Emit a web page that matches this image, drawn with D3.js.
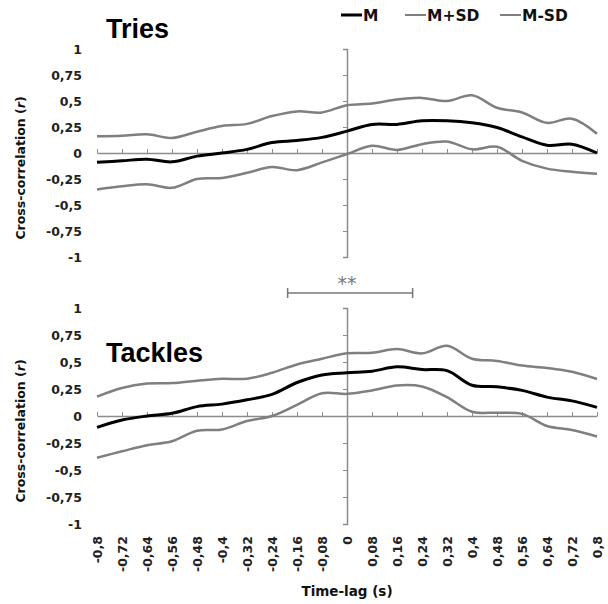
<!DOCTYPE html>
<html>
<head>
<meta charset="utf-8">
<script src="https://cdn.jsdelivr.net/npm/d3@7"></script>
<style>
  body { margin: 0; background: #fff; }
  svg { display: block; font-family: "DejaVu Sans", sans-serif; }
</style>
</head>
<body>
<div id="chart"></div>
<script>
// time lags (s), one value every 0.08
const lags = [-0.8, -0.72, -0.64, -0.56, -0.48, -0.4, -0.32, -0.24, -0.16, -0.08, 0,
  0.08, 0.16, 0.24, 0.32, 0.4, 0.48, 0.56, 0.64, 0.72, 0.8];
const lagLabels = ['-0,8', '-0,72', '-0,64', '-0,56', '-0,48', '-0,4', '-0,32', '-0,24', '-0,16', '-0,08', '0',
  '0,08', '0,16', '0,24', '0,32', '0,4', '0,48', '0,56', '0,64', '0,72', '0,8'];
const rTicks = [1, 0.75, 0.5, 0.25, 0, -0.25, -0.5, -0.75, -1];
const rLabels = ['1', '0,75', '0,5', '0,25', '0', '-0,25', '-0,5', '-0,75', '-1'];

// Tries
const triesM = [-0.09, -0.075, -0.06, -0.085, -0.03, 0.0, 0.035, 0.1, 0.12, 0.15, 0.21,
  0.275, 0.275, 0.31, 0.31, 0.29, 0.245, 0.155, 0.075, 0.085, 0.0];
const triesPlus = [0.16, 0.165, 0.18, 0.145, 0.205, 0.26, 0.28, 0.355, 0.4, 0.39, 0.46,
  0.475, 0.515, 0.53, 0.5, 0.555, 0.435, 0.39, 0.29, 0.33, 0.185];
const triesMinus = [-0.35, -0.32, -0.3, -0.335, -0.25, -0.24, -0.19, -0.135, -0.165, -0.09, -0.01,
  0.07, 0.03, 0.085, 0.11, 0.035, 0.06, -0.075, -0.15, -0.18, -0.2];

// Tackles
const tacklesM = [-0.105, -0.037, 0.0, 0.025, 0.087, 0.11, 0.15, 0.2, 0.31, 0.38, 0.4,
  0.415, 0.455, 0.43, 0.42, 0.285, 0.27, 0.237, 0.175, 0.14, 0.08];
const tacklesPlus = [0.18, 0.26, 0.3, 0.305, 0.327, 0.345, 0.345, 0.4, 0.477, 0.53, 0.58,
  0.585, 0.62, 0.58, 0.65, 0.53, 0.51, 0.467, 0.445, 0.41, 0.343];
const tacklesMinus = [-0.386, -0.327, -0.27, -0.234, -0.137, -0.125, -0.047, 0.0, 0.103, 0.21, 0.205,
  0.237, 0.283, 0.274, 0.175, 0.04, 0.03, 0.02, -0.093, -0.13, -0.19];

const seriesNames = ['M', 'M+SD', 'M-SD'];
const sigRange = [-0.19, 0.21];

const width = 608, height = 604;
const axisColor = '#8c8c8c';
const sdColor = '#7f7f7f';

const svg = d3.select('#chart').append('svg')
    .attr('width', width)
    .attr('height', height);

const x = d3.scaleLinear().domain([-0.8, 0.8]).range([97, 597]);

const panels = [
  { title: 'Tries', y: d3.scaleLinear().domain([-1, 1]).range([257, 49]), titleY: 38,
    series: [triesPlus, triesMinus, triesM] },
  { title: 'Tackles', y: d3.scaleLinear().domain([-1, 1]).range([524, 308]), titleY: 362,
    series: [tacklesPlus, tacklesMinus, tacklesM] }
];

panels.forEach(p => {
  const g = svg.append('g');

  // horizontal axis through r = 0, ticks pointing up
  g.append('g')
      .attr('transform', `translate(0,${p.y(0)})`)
      .call(d3.axisTop(x).tickValues(lags).tickSize(4).tickFormat('').tickSizeOuter(0))
      .call(a => a.select('.domain').attr('stroke', axisColor).attr('stroke-width', 1.5))
      .call(a => a.selectAll('.tick line').attr('stroke', axisColor));

  // vertical axis through lag = 0
  g.append('g')
      .attr('transform', `translate(${x(0)},0)`)
      .call(d3.axisLeft(p.y).tickValues(rTicks).tickSize(4).tickFormat('').tickSizeOuter(4))
      .call(a => a.select('.domain').attr('stroke', axisColor).attr('stroke-width', 1.5))
      .call(a => a.selectAll('.tick line').attr('stroke', axisColor));

  // r labels on the left
  g.selectAll('.rlab')
    .data(rTicks)
    .join('text')
      .attr('x', 82)
      .attr('y', d => p.y(d) + 5)
      .attr('text-anchor', 'end')
      .attr('font-size', 12.5)
      .attr('font-weight', 700)
      .attr('fill', '#222')
      .text((d, i) => rLabels[i]);

  const yt = g.append('text')
      .attr('transform', `translate(25,${p.y(0) + 15}) rotate(-90)`)
      .attr('text-anchor', 'middle')
      .attr('font-size', 12.5)
      .attr('font-weight', 700)
      .attr('fill', '#111');
  yt.append('tspan').text('Cross-correlation (');
  yt.append('tspan').attr('font-style', 'italic').text('r');
  yt.append('tspan').text(')');

  g.append('text')
      .attr('x', 106)
      .attr('y', p.titleY)
      .attr('font-family', '"Liberation Sans", Arial, sans-serif')
      .attr('font-size', 27)
      .attr('font-weight', 700)
      .attr('fill', '#000')
      .text(p.title);

  const line = d3.line()
      .x((d, i) => x(lags[i]))
      .y(d => p.y(d))
      .curve(d3.curveCatmullRom.alpha(0.5));

  g.selectAll('.series')
    .data(p.series)
    .join('path')
      .attr('fill', 'none')
      .attr('stroke', (d, i) => i === 2 ? '#000' : sdColor)
      .attr('stroke-width', (d, i) => i === 2 ? 3 : 2.5)
      .attr('stroke-linejoin', 'round')
      .attr('d', line);
});

// lag labels under the lower panel
svg.selectAll('.xlab')
  .data(lags)
  .join('text')
    .attr('transform', d => `translate(${x(d) + 4.5},536) rotate(-90)`)
    .attr('text-anchor', 'end')
    .attr('font-size', 12.5)
    .attr('font-weight', 700)
    .attr('fill', '#222')
    .text((d, i) => lagLabels[i]);

svg.append('text')
    .attr('x', x(0))
    .attr('y', 596)
    .attr('text-anchor', 'middle')
    .attr('font-size', 13.5)
    .attr('font-weight', 700)
    .attr('fill', '#111')
    .text('Time-lag (s)');

// significance bar
const sigY = 293;
const sig = svg.append('g').attr('stroke', '#777').attr('stroke-width', 1.5);
sig.append('line').attr('x1', x(sigRange[0])).attr('x2', x(sigRange[1])).attr('y1', sigY).attr('y2', sigY);
sigRange.forEach(v => {
  sig.append('line').attr('x1', x(v)).attr('x2', x(v)).attr('y1', sigY - 5).attr('y2', sigY + 5);
});
svg.append('text')
    .attr('x', x(0))
    .attr('y', 290)
    .attr('text-anchor', 'middle')
    .attr('font-size', 19)
    .attr('fill', '#777')
    .text('**');

// legend
const legendX = [341, 405, 500];
const legend = svg.append('g');
seriesNames.forEach((name, i) => {
  legend.append('line')
      .attr('x1', legendX[i]).attr('x2', legendX[i] + 21)
      .attr('y1', 15).attr('y2', 15)
      .attr('stroke', i === 0 ? '#000' : sdColor)
      .attr('stroke-width', i === 0 ? 3 : 2);
  legend.append('text')
      .attr('x', legendX[i] + 22)
      .attr('y', 20.5)
      .attr('font-size', 15.5)
      .attr('font-weight', 700)
      .attr('fill', '#111')
      .text(name);
});
</script>
</body>
</html>
